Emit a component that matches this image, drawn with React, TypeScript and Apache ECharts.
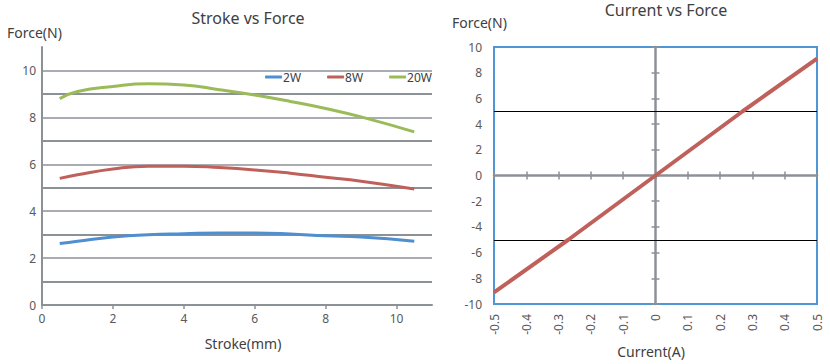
import React, { useEffect, useRef } from "react";
import * as echarts from "echarts";

const strokeX = [0.5, 1, 2, 3, 4, 5, 6, 7, 8, 9, 10.5];
const force2W = [2.62, 2.72, 2.9, 3.0, 3.04, 3.07, 3.07, 3.03, 2.95, 2.9, 2.72];
const force8W = [5.4, 5.55, 5.8, 5.92, 5.92, 5.86, 5.76, 5.62, 5.45, 5.28, 4.95];
const force20W = [8.8, 9.1, 9.32, 9.43, 9.38, 9.18, 8.95, 8.68, 8.38, 8.02, 7.38];
const seriesNames = ["2W", "8W", "20W"];

const currentX = [-0.5, -0.27, 0, 0.27, 0.5];
const forceI = [-9.1, -5, 0, 5, 9.1];
const refLines = [5, -5];

const FONT = "Noto Sans";
const GRAY = "#8c9196";
const LABEL = "#595959";

export default function App() {
  const ref = useRef<HTMLDivElement>(null);
  useEffect(() => {
    document.body.style.margin = "0";
    const chart = echarts.init(ref.current!, null, { renderer: "svg" });
    const pair = (xs: number[], ys: number[]) => xs.map((x, i) => [x, ys[i]]);
    const colors = ["#4f8fd0", "#c0605a", "#9bbb59"];
    const strokeData = [force2W, force8W, force20W];

    const hiddenAxisBits = {
      axisLabel: { show: false },
      splitLine: { show: false },
    };

    chart.setOption({
      animation: false,
      textStyle: { fontFamily: FONT },
      title: [
        { text: "Stroke vs Force", left: 248, top: 10, textAlign: "center", padding: 0,
          textStyle: { fontSize: 16, fontWeight: "normal", color: "#404040", fontFamily: FONT } },
        { text: "Current vs Force", left: 666, top: 2, textAlign: "center", padding: 0,
          textStyle: { fontSize: 16, fontWeight: "normal", color: "#404040", fontFamily: FONT } },
        { text: "Force(N)", left: 7, top: 25, padding: 0,
          textStyle: { fontSize: 14, fontWeight: "normal", color: "#404040", fontFamily: FONT } },
        { text: "Force(N)", left: 452, top: 15, padding: 0,
          textStyle: { fontSize: 14, fontWeight: "normal", color: "#404040", fontFamily: FONT } },
        { text: "Stroke(mm)", left: 243, top: 336, textAlign: "center", padding: 0,
          textStyle: { fontSize: 14, fontWeight: "normal", color: "#404040", fontFamily: FONT } },
        { text: "Current(A)", left: 651, top: 344, textAlign: "center", padding: 0,
          textStyle: { fontSize: 14, fontWeight: "normal", color: "#404040", fontFamily: FONT } },
      ],
      legend: {
        data: seriesNames,
        right: 398,
        top: 71,
        icon: "roundRect",
        itemWidth: 17,
        itemHeight: 3,
        itemGap: 26,
        padding: 0,
        textStyle: { fontSize: 12, color: "#404040", fontFamily: FONT, padding: [0, 0, 0, -4] },
      },
      grid: [
        { left: 42, top: 47, width: 390, height: 258 },
        { left: 494, top: 47, right: 13, bottom: 60, show: true, borderColor: "#4f96d6", borderWidth: 2, backgroundColor: "transparent" },
      ],
      xAxis: [
        {
          gridIndex: 0, type: "value", min: 0, max: 11, interval: 2,
          axisLine: { lineStyle: { color: GRAY, width: 2 } },
          axisTick: { show: true, inside: false, length: 4, lineStyle: { color: GRAY, width: 1.5 } },
          axisLabel: { color: LABEL, fontSize: 12, margin: 7, showMaxLabel: false },
          splitLine: { show: false },
        },
        {
          gridIndex: 1, type: "value", min: -0.5, max: 0.5, interval: 0.1, position: "bottom",
          axisLine: { show: false, onZero: false },
          axisTick: { show: false },
          axisLabel: { color: LABEL, fontSize: 12, rotate: 90, margin: 10 },
          splitLine: { show: false },
        },
        {
          gridIndex: 1, type: "value", min: -0.5, max: 0.5, interval: 0.1, position: "bottom",
          axisLine: { show: true, onZero: true, lineStyle: { color: GRAY, width: 2.5 } },
          axisTick: { show: true, inside: true, length: 4, lineStyle: { color: GRAY, width: 1.5 } },
          ...hiddenAxisBits,
        },
        {
          gridIndex: 1, type: "value", min: -0.5, max: 0.5, interval: 0.1, position: "top",
          axisLine: { show: false, onZero: true },
          axisTick: { show: true, inside: true, length: 4, lineStyle: { color: GRAY, width: 1.5 } },
          ...hiddenAxisBits,
        },
      ],
      yAxis: [
        {
          gridIndex: 0, type: "value", min: 0, max: 11, interval: 2,
          axisLine: { show: true, lineStyle: { color: GRAY, width: 2 } },
          axisTick: { show: false },
          axisLabel: { color: LABEL, fontSize: 12, margin: 6, showMaxLabel: false },
          splitLine: { show: true, showMaxLine: false, lineStyle: { color: GRAY, width: 1.5 } },
          minorTick: { show: false, splitNumber: 2 },
          minorSplitLine: { show: true, lineStyle: { color: GRAY, width: 2 } },
        },
        {
          gridIndex: 1, type: "value", min: -10, max: 10, interval: 2, position: "left",
          axisLine: { show: false, onZero: false },
          axisTick: { show: false },
          axisLabel: { color: LABEL, fontSize: 12, margin: 12 },
          splitLine: { show: false },
        },
        {
          gridIndex: 1, type: "value", min: -10, max: 10, interval: 2, position: "left",
          axisLine: { show: true, onZero: true, lineStyle: { color: GRAY, width: 2.5 } },
          axisTick: { show: true, inside: true, length: 4, lineStyle: { color: GRAY, width: 1.5 } },
          ...hiddenAxisBits,
        },
        {
          gridIndex: 1, type: "value", min: -10, max: 10, interval: 2, position: "right",
          axisLine: { show: false, onZero: true },
          axisTick: { show: true, inside: true, length: 4, lineStyle: { color: GRAY, width: 1.5 } },
          ...hiddenAxisBits,
        },
      ],
      series: [
        ...seriesNames.map((name, i) => ({
          name,
          type: "line",
          xAxisIndex: 0,
          yAxisIndex: 0,
          data: pair(strokeX, strokeData[i]),
          smooth: true,
          showSymbol: false,
          symbol: "none",
          color: colors[i],
          lineStyle: { color: colors[i], width: 3 },
          z: 3,
        })),
        {
          name: "Current",
          type: "line",
          xAxisIndex: 1,
          yAxisIndex: 1,
          data: pair(currentX, forceI),
          showSymbol: false,
          symbol: "none",
          lineStyle: { color: "#c0605a", width: 4 },
          z: 4,
          markLine: {
            silent: true,
            symbol: "none",
            label: { show: false },
            lineStyle: { color: "#000", width: 1, type: "solid" },
            data: refLines.map((v) => ({ yAxis: v })),
            z: 1,
          },
        },
      ],
    });
    return () => chart.dispose();
  }, []);
  return <div ref={ref} style={{ width: 830, height: 364 }} />;
}
